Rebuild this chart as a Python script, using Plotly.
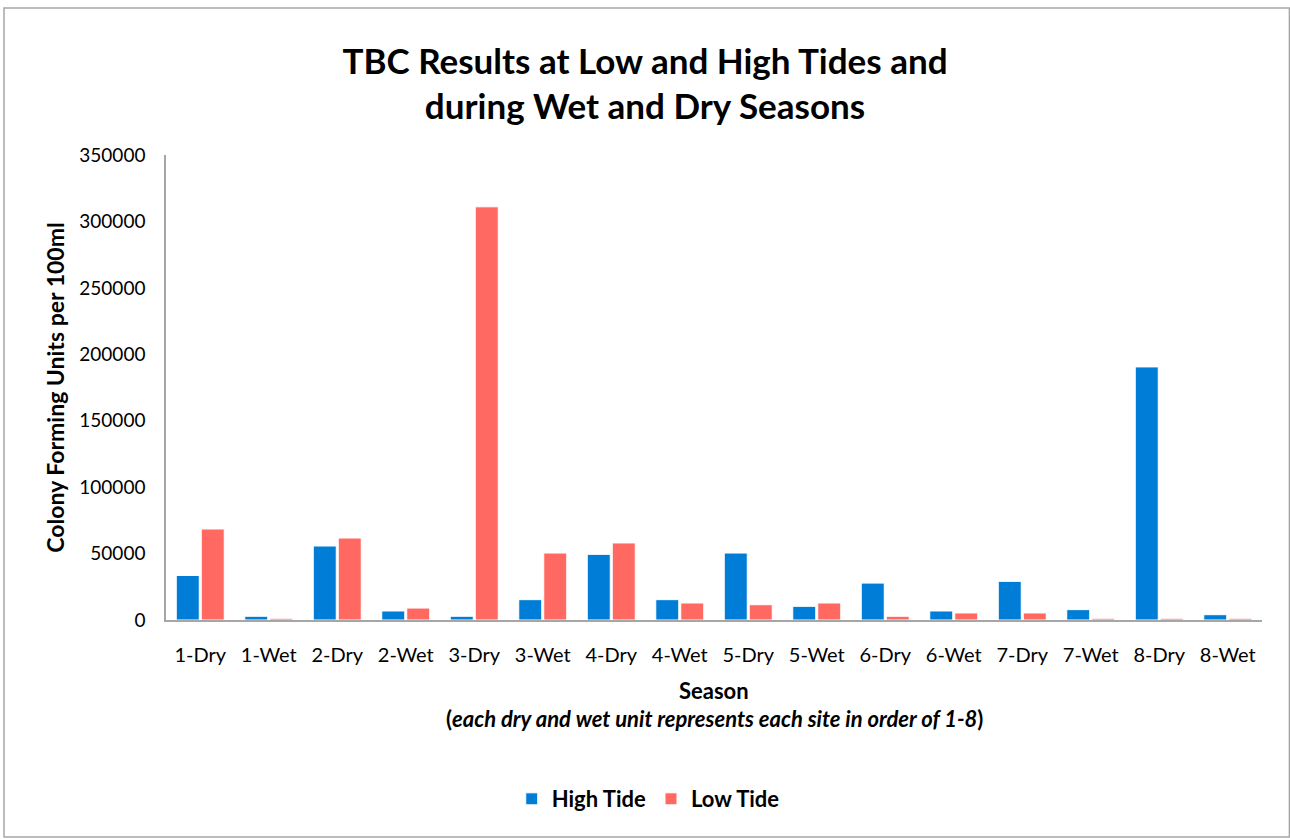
import plotly.graph_objects as go

categories = ["1-Dry", "1-Wet", "2-Dry", "2-Wet", "3-Dry", "3-Wet", "4-Dry", "4-Wet",
              "5-Dry", "5-Wet", "6-Dry", "6-Wet", "7-Dry", "7-Wet", "8-Dry", "8-Wet"]
high_tide = [33500, 2800, 55700, 6800, 2800, 15300, 49400, 15300,
             50400, 10300, 27800, 6800, 29100, 7800, 190500, 4000]
low_tide = [68500, 1300, 61700, 9000, 311000, 50400, 58000, 12800,
            11500, 12800, 2800, 5300, 5300, 1300, 1300, 1300]
y_ticks = [0, 50000, 100000, 150000, 200000, 250000, 300000, 350000]

FONT = "Lato"
BLUE = "#007DD6"
RED = "#FF6961"

fig = go.Figure()
fig.add_trace(go.Bar(x=categories, y=high_tide, name="High Tide", marker_color=BLUE,
                     marker_line=dict(color="white", width=1)))
fig.add_trace(go.Bar(x=categories, y=low_tide, name="Low Tide", marker_color=RED,
                     marker_line=dict(color="white", width=1)))

fig.update_layout(
    width=1290, height=839,
    margin=dict(l=166, r=28, t=155, b=219),
    paper_bgcolor="white", plot_bgcolor="white",
    barmode="group", bargap=0.27, bargroupgap=0.08,
    font=dict(family=FONT, color="#000000"),
    title=dict(text="<b>TBC Results at Low and High Tides and<br>during Wet and Dry Seasons</b>",
               x=0.5, xanchor="center", y=0.912, yanchor="middle",
               font=dict(size=35, family=FONT, color="black")),
    showlegend=True,
    legend=dict(orientation="h", x=0.44, xanchor="center", y=-0.385, yanchor="middle",
                font=dict(size=22, family=FONT, weight="bold"), traceorder="normal",
                itemwidth=30),
)
fig.update_xaxes(showline=True, linecolor="#A6A6A6", linewidth=1.5,
                 tickfont=dict(size=20, family=FONT), ticks="", showgrid=False,
                 ticklabelstandoff=16)
fig.update_yaxes(range=[0, 350000], tickvals=y_ticks, ticktext=[str(v) for v in y_ticks],
                 showline=True, linecolor="#A6A6A6", linewidth=1.5, showgrid=False,
                 zeroline=False, ticks="", tickfont=dict(size=19, family=FONT),
                 ticklabelstandoff=15,
                 title=dict(text="<b>Colony Forming Units per 100ml</b>", standoff=8,
                            font=dict(size=23, family=FONT)))
fig.add_annotation(text="<b>Season</b>", xref="paper", yref="paper", x=0.5, y=-0.152,
                   xanchor="center", yanchor="middle", showarrow=False,
                   font=dict(size=22, family=FONT))
fig.add_annotation(text="<b>(<i>each dry and wet unit represents each site in order of 1-8</i>)</b>",
                   xref="paper", yref="paper", x=0.5, y=-0.212,
                   xanchor="center", yanchor="middle", showarrow=False,
                   font=dict(size=22, family=FONT))
fig.add_shape(type="rect", xref="paper", yref="paper",
              x0=-162/1096, x1=1.025, y0=-217/465, y1=1+147/465,
              line=dict(color="#A6A6A6", width=1.5), fillcolor="rgba(0,0,0,0)")

fig.write_html("out.html")
